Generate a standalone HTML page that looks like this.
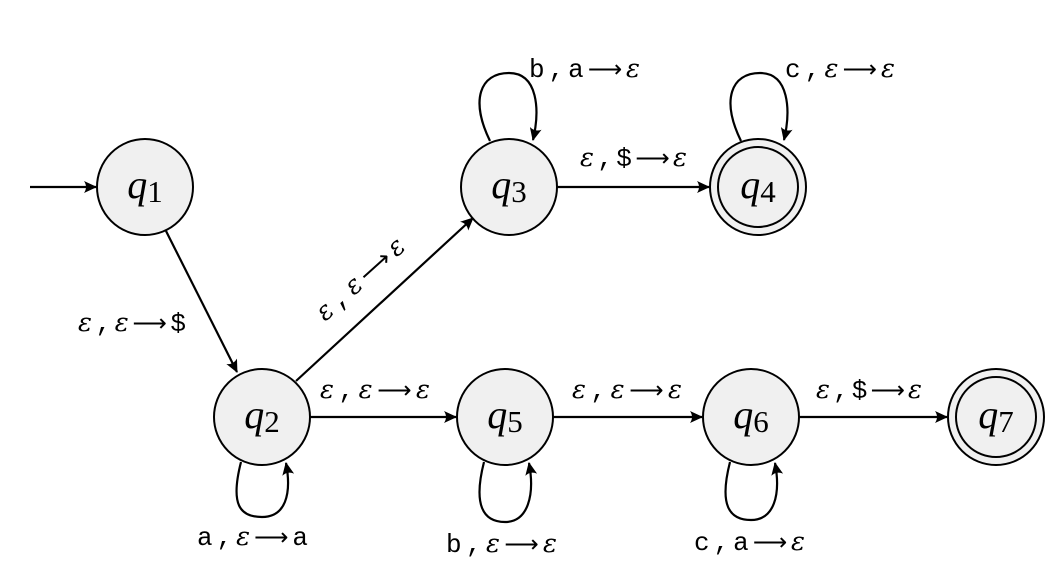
<!DOCTYPE html>
<html><head><style>
html,body{margin:0;padding:0;background:#fff}
svg{display:block}
.t{font-family:"Liberation Mono",monospace;font-size:26px;fill:#000}
.e{font-family:"DejaVu Serif",serif;font-style:italic;font-size:26px}
.r{font-family:"DejaVu Sans",sans-serif;font-size:24px}
.q{font-family:"Liberation Serif",serif;font-style:italic;font-size:40px}
.s{font-family:"Liberation Serif",serif;font-size:31px;font-style:normal}
</style></head><body>
<svg width="1056" height="566" viewBox="0 0 1056 566" xmlns="http://www.w3.org/2000/svg">
<defs>
<marker id="a" markerWidth="14" markerHeight="12" refX="12" refY="6" orient="auto" markerUnits="userSpaceOnUse">
<path d="M0,0 Q4,6 0,12 L13,6 Z" fill="#000"/>
</marker>
</defs>
<g fill="none" stroke="#000" stroke-width="2.2">
<line x1="30" y1="187" x2="96" y2="187" marker-end="url(#a)"/>
<line x1="166" y1="231" x2="237" y2="372" marker-end="url(#a)"/>
<line x1="296" y1="381" x2="473" y2="218" marker-end="url(#a)"/>
<line x1="557" y1="187" x2="709" y2="187" marker-end="url(#a)"/>
<line x1="310" y1="417" x2="456" y2="417" marker-end="url(#a)"/>
<line x1="553" y1="417" x2="702" y2="417" marker-end="url(#a)"/>
<line x1="799" y1="417" x2="947" y2="417" marker-end="url(#a)"/>
<path d="M490,141 C470,100 480,73 509,73 C538,73 540,110 533,140" marker-end="url(#a)"/>
<path d="M741,141 C721,100 731,73 760,73 C789,73 791,110 784,140" marker-end="url(#a)"/>
<path d="M241,462 C230,505 240,517 262,517 C285,517 292,495 286,463" marker-end="url(#a)"/>
<path d="M484,462 C473,505 483,522 505,522 C528,522 535,495 529,463" marker-end="url(#a)"/>
<path d="M730,462 C719,505 729,520 751,520 C774,520 781,495 775,463" marker-end="url(#a)"/>
</g>
<g fill="#f0f0f0" stroke="#000" stroke-width="2">
<circle cx="145" cy="187" r="48"/>
<circle cx="262" cy="417" r="48"/>
<circle cx="509" cy="187" r="48"/>
<circle cx="758" cy="187" r="48"/>
<circle cx="758" cy="187" r="40"/>
<circle cx="505" cy="417" r="48"/>
<circle cx="751" cy="417" r="48"/>
<circle cx="996" cy="417" r="48"/>
<circle cx="996" cy="417" r="40"/>
</g>
<g class="q" text-anchor="middle">
<text x="145" y="198">q<tspan class="s" dy="4">1</tspan></text>
<text x="262" y="428">q<tspan class="s" dy="4">2</tspan></text>
<text x="509" y="198">q<tspan class="s" dy="4">3</tspan></text>
<text x="758" y="198">q<tspan class="s" dy="4">4</tspan></text>
<text x="505" y="428">q<tspan class="s" dy="4">5</tspan></text>
<text x="751" y="428">q<tspan class="s" dy="4">6</tspan></text>
<text x="996" y="428">q<tspan class="s" dy="4">7</tspan></text>
</g>
<g class="t">
<text x="529" y="77" textLength="111" lengthAdjust="spacing">b,a<tspan class="r">⟶</tspan><tspan class="e">ε</tspan></text>
<text x="785" y="77" textLength="110" lengthAdjust="spacing">c,<tspan class="e">ε</tspan><tspan class="r">⟶</tspan><tspan class="e">ε</tspan></text>
<text x="580" y="166" textLength="107" lengthAdjust="spacing"><tspan class="e">ε</tspan>,$<tspan class="r">⟶</tspan><tspan class="e">ε</tspan></text>
<text x="78" y="331" textLength="108" lengthAdjust="spacing"><tspan class="e">ε</tspan>,<tspan class="e">ε</tspan><tspan class="r">⟶</tspan>$</text>
<text x="320" y="398" textLength="110" lengthAdjust="spacing"><tspan class="e">ε</tspan>,<tspan class="e">ε</tspan><tspan class="r">⟶</tspan><tspan class="e">ε</tspan></text>
<text x="572" y="398" textLength="110" lengthAdjust="spacing"><tspan class="e">ε</tspan>,<tspan class="e">ε</tspan><tspan class="r">⟶</tspan><tspan class="e">ε</tspan></text>
<text x="816" y="398" textLength="106" lengthAdjust="spacing"><tspan class="e">ε</tspan>,$<tspan class="r">⟶</tspan><tspan class="e">ε</tspan></text>
<text x="197" y="545" textLength="111" lengthAdjust="spacing">a,<tspan class="e">ε</tspan><tspan class="r">⟶</tspan>a</text>
<text x="446" y="552" textLength="111" lengthAdjust="spacing">b,<tspan class="e">ε</tspan><tspan class="r">⟶</tspan><tspan class="e">ε</tspan></text>
<text x="694" y="550" textLength="111" lengthAdjust="spacing">c,a<tspan class="r">⟶</tspan><tspan class="e">ε</tspan></text>
<text x="0" y="0" transform="translate(325,322) rotate(-42)" textLength="110" lengthAdjust="spacing"><tspan class="e">ε</tspan>,<tspan class="e">ε</tspan><tspan class="r">⟶</tspan><tspan class="e">ε</tspan></text>
</g>
</svg>
</body></html>
